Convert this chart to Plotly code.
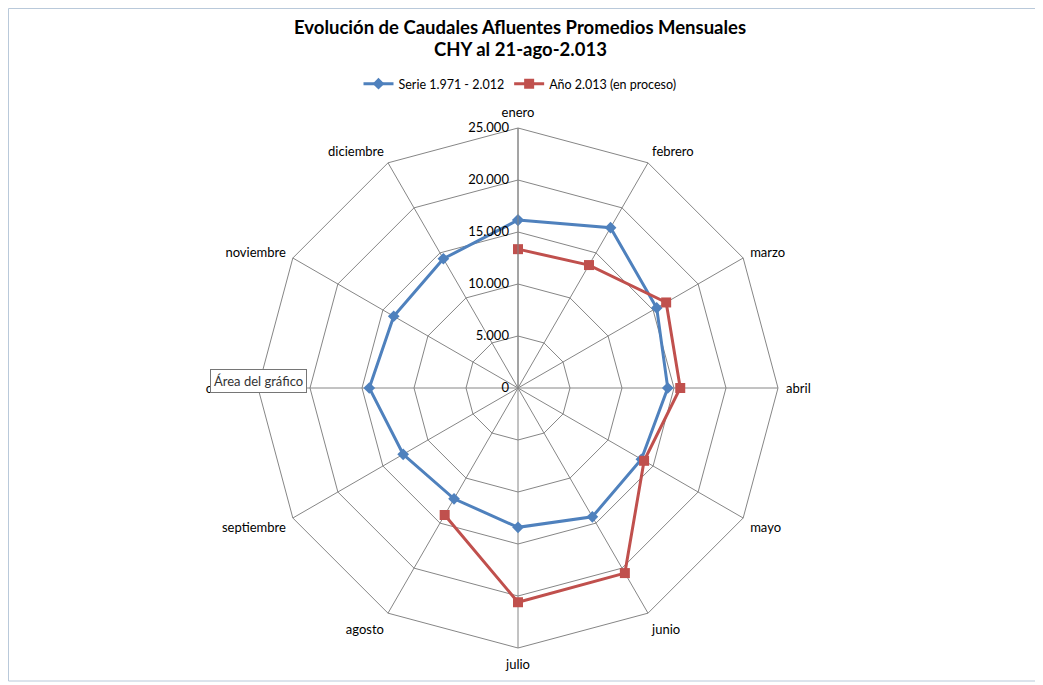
import plotly.graph_objects as go

months = ["enero", "febrero", "marzo", "abril", "mayo", "junio", "julio",
          "agosto", "septiembre", "octubre", "noviembre", "diciembre"]
serie_hist = [16150, 17800, 15400, 14400, 13700, 14300, 13400, 12300, 12750, 14300, 13800, 14350]
anio_2013 = [13350, 13650, 16450, 15600, 14000, 20550, 20600, 14100]
title_lines = ["Evolución de Caudales Afluentes Promedios Mensuales", "CHY al 21-ago-2.013"]

OFF = 8  # page body margin
W, H = 1043 - OFF, 685 - OFF
cx, cy, R = 518 - OFF, 388 - OFF, 260

def px(x):
    return (x - OFF) / W

def py(y):
    return 1 - (y - OFF) / H

FONT = "Lato, Liberation Sans, sans-serif"

fig = go.Figure()
fig.add_trace(go.Scatterpolar(
    r=serie_hist + serie_hist[:1], theta=months + months[:1],
    mode="lines+markers", name="Serie 1.971 - 2.012",
    line=dict(color="#4F81BD", width=3),
    marker=dict(symbol="diamond", size=9, color="#4F81BD")))
fig.add_trace(go.Scatterpolar(
    r=anio_2013, theta=months[:len(anio_2013)],
    mode="lines+markers", name="Año 2.013 (en proceso)",
    line=dict(color="#C0504D", width=3),
    marker=dict(symbol="square", size=10, color="#C0504D")))

annotations = [
    dict(text="<b>%s</b>" % title_lines[0], xref="paper", yref="paper",
         x=px(520), y=py(27), xanchor="center", yanchor="middle", showarrow=False,
         font=dict(size=18.5, family=FONT, color="black")),
    dict(text="<b>%s</b>" % title_lines[1], xref="paper", yref="paper",
         x=px(520), y=py(49), xanchor="center", yanchor="middle", showarrow=False,
         font=dict(size=18.5, family=FONT, color="black")),
    dict(text="Área del gráfico", xref="paper", yref="paper",
         x=px(210), y=py(369), xanchor="left", yanchor="top",
         showarrow=False, bgcolor="white", bordercolor="#767676",
         borderwidth=1, borderpad=3, font=dict(size=13, color="#333333")),
]

fig.update_layout(
    width=W, height=H,
    margin=dict(l=0, r=0, t=0, b=0),
    paper_bgcolor="white", plot_bgcolor="white",
    separators=",.",
    font=dict(family=FONT, size=13, color="black"),
    legend=dict(orientation="h", x=px(520), xanchor="center", y=py(69), yanchor="top",
                font=dict(size=12.5), itemwidth=30, bgcolor="rgba(0,0,0,0)"),
    polar=dict(
        domain=dict(x=[(cx - R) / W, (cx + R) / W], y=[1 - (cy + R) / H, 1 - (cy - R) / H]),
        gridshape="linear",
        bgcolor="white",
        angularaxis=dict(direction="clockwise", rotation=90, type="category",
                         categoryarray=months, categoryorder="array",
                         showline=True, linecolor="#868686", linewidth=1,
                         gridcolor="#868686", gridwidth=1,
                         ticks="outside", ticklen=5, tickcolor="rgba(0,0,0,0)",
                         tickfont=dict(size=13)),
        radialaxis=dict(range=[0, 25000], dtick=5000, angle=90, tickangle=90,
                        side="counterclockwise", separatethousands=True,
                        tickformat=",d",
                        showline=True, linecolor="#868686", linewidth=1,
                        gridcolor="#868686", gridwidth=1,
                        ticks="outside", ticklen=4, tickcolor="rgba(0,0,0,0)",
                        tickfont=dict(size=13)),
    ),
    shapes=[dict(type="rect", xref="paper", yref="paper",
                 x0=0.5 / W, x1=px(1037), y0=py(681), y1=1 - 0.5 / H,
                 line=dict(color="#B9C9DA", width=1))],
    annotations=annotations,
)

fig.write_html("out.html")
